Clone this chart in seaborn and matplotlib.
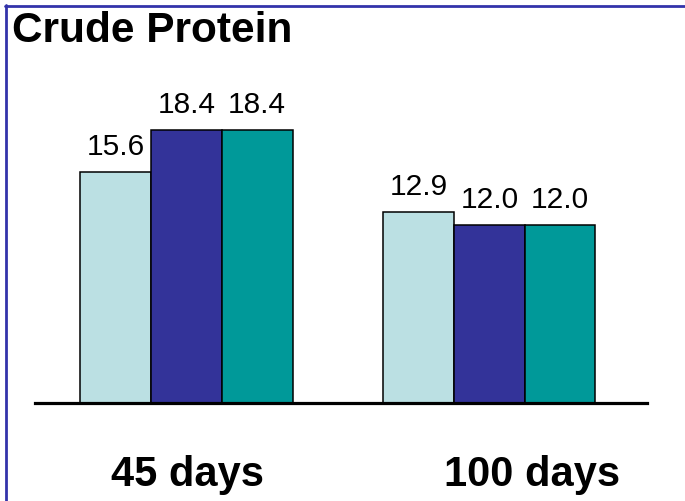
import matplotlib
matplotlib.use("Agg")
import matplotlib.pyplot as plt
import matplotlib.transforms as mtransforms
from matplotlib.lines import Line2D
import pandas as pd
import seaborn as sns

# Crude protein content (%) by harvest age and treatment
ages = ["45 days", "100 days"]
treatments = ["T1", "T2", "T3"]
protein_45 = [15.6, 18.4, 18.4]
protein_100 = [12.9, 12.0, 12.0]
bar_colors = ["#BBE0E3", "#333399", "#009999"]

df = pd.DataFrame({
    "age": [ages[0]] * 3 + [ages[1]] * 3,
    "treatment": treatments * 2,
    "protein": protein_45 + protein_100,
})

sns.set_theme(style="white")
plt.rcParams["font.family"] = ["Liberation Sans", "DejaVu Sans"]

fig = plt.figure(figsize=(6.85, 5.01), dpi=100)
ax = fig.add_axes([35 / 685, 0.1956, (647 - 35) / 685, 0.7876 - 0.1956])

sns.barplot(data=df, x="age", y="protein", hue="treatment", order=ages,
            hue_order=treatments, palette=bar_colors, width=0.7,
            edgecolor="black", linewidth=1.1, saturation=1, legend=False, ax=ax)

for cont in ax.containers:
    ax.bar_label(cont, fmt="%.1f", padding=8, fontsize=21.5, color="black")

ax.set_ylim(0, 20)
ax.set_xlim(-0.5, 1.52)
ax.set_xlabel("")
ax.set_ylabel("")
ax.set_yticks([])
ax.set_xticks([])
for side in ("top", "right", "left"):
    ax.spines[side].set_visible(False)
ax.spines["bottom"].set_linewidth(2.3)
ax.spines["bottom"].set_color("black")

# Group labels beneath the baseline
trans = mtransforms.blended_transform_factory(ax.transData, ax.transAxes)
label_x = [0.003, 1.14]
for xx, lab in zip(label_x, ages):
    ax.text(xx, -0.28, lab, transform=trans, ha="center", va="baseline",
            fontsize=30, fontweight="bold", color="black")

fig.text(12 / 685, (501 - 42) / 501, "Crude Protein", ha="left", va="baseline",
         fontsize=30.5, fontweight="bold", color="black")

# Frame lines along the top and left edges
fig.add_artist(Line2D([5 / 685, 1], [1 - 6 / 501, 1 - 6 / 501],
                      transform=fig.transFigure, color="#3333AA", linewidth=2))
fig.add_artist(Line2D([6 / 685, 6 / 685], [0, 1 - 5 / 501],
                      transform=fig.transFigure, color="#3333AA", linewidth=2))

fig.savefig("out.png", dpi=100)
